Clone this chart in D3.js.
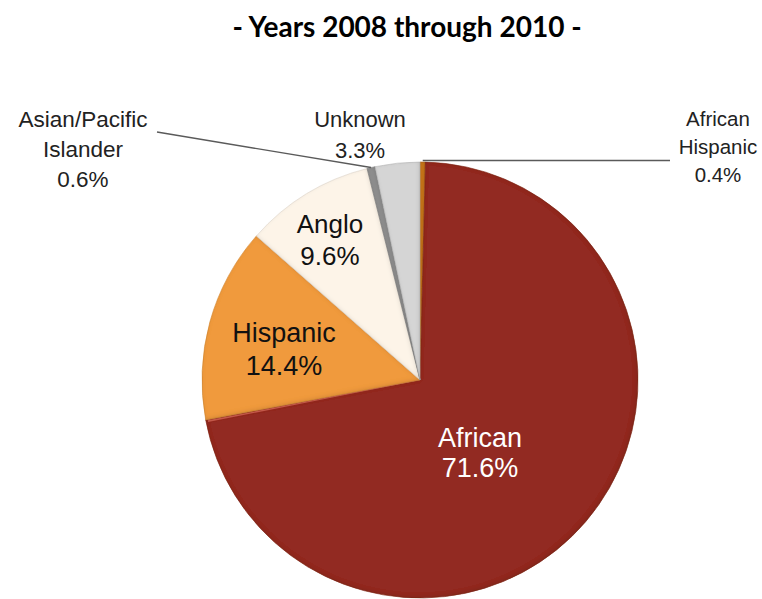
<!DOCTYPE html>
<html>
<head>
<meta charset="utf-8">
<script src="https://cdn.jsdelivr.net/npm/d3@7"></script>
<style>
html,body{margin:0;padding:0;background:#fff;}
svg{display:block;}
</style>
</head>
<body>
<svg id="chart" width="762" height="599"></svg>
<script>
// ---- data ----
const categories = ["African Hispanic", "African", "Hispanic", "Anglo", "Asian/Pacific Islander", "Unknown"];
const values = [0.4, 71.6, 14.4, 9.6, 0.6, 3.3];
const colors = ["#c8761e", "#922c20", "#f09a3c", "#fdf4e8", "#8e8e8e", "#d5d5d5"];
const titleText = "- Years 2008 through 2010 -";

// label text lines (one entry per category)
const labelLines = [
  ["African", "Hispanic", "0.4%"],
  ["African", "71.6%"],
  ["Hispanic", "14.4%"],
  ["Anglo", "9.6%"],
  ["Asian/Pacific", "Islander", "0.6%"],
  ["Unknown", "3.3%"]
];

// ---- layout ----
const cx = 420, cy = 380, R = 218;
const labelLayout = [
  {x: 718, y: 126, size: 20.5, lh: 28, color: "#222"},
  {x: 480, y: 447, size: 27, lh: 30, color: "#fff"},
  {x: 284, y: 342, size: 27, lh: 33, color: "#111"},
  {x: 330, y: 233, size: 26, lh: 32, color: "#111"},
  {x: 83,  y: 127, size: 22.5, lh: 30, color: "#222"},
  {x: 360, y: 127, size: 22, lh: 31, color: "#222"}
];

const svg = d3.select("#chart");

// defs: bevel-like edge shading
const defs = svg.append("defs");
const filt = defs.append("filter").attr("id","bevel").attr("x","-5%").attr("y","-5%").attr("width","110%").attr("height","110%");
filt.append("feGaussianBlur").attr("in","SourceAlpha").attr("stdDeviation",2.2).attr("result","blur");
filt.append("feOffset").attr("in","blur").attr("dx",-1.5).attr("dy",-1.5).attr("result","off");
filt.append("feComposite").attr("in","SourceAlpha").attr("in2","off").attr("operator","arithmetic")
  .attr("k1",0).attr("k2",1).attr("k3",-1).attr("k4",0).attr("result","edge");
filt.append("feFlood").attr("flood-color","#000").attr("flood-opacity",0.28).attr("result","fc");
filt.append("feComposite").attr("in","fc").attr("in2","edge").attr("operator","in").attr("result","shade");
filt.append("feMerge").call(m=>{m.append("feMergeNode").attr("in","SourceGraphic");m.append("feMergeNode").attr("in","shade");});

// title
svg.append("text")
  .attr("x", 407).attr("y", 37)
  .attr("text-anchor","middle")
  .attr("font-family","Lato, 'Open Sans', sans-serif")
  .attr("font-weight","bold")
  .attr("font-size", 28)
  .attr("fill","#000")
  .text(titleText);

const data = categories.map((c,i)=>({cat:c, value:values[i], color:colors[i], i}));
const pie = d3.pie().value(d=>d.value).sort(null).startAngle(0).endAngle(2*Math.PI);
const arcs = pie(data);
const arc = d3.arc().innerRadius(0).outerRadius(R);

const g = svg.append("g").attr("transform",`translate(${cx},${cy})`);
g.selectAll("path.slice").data(arcs).join("path")
  .attr("class","slice")
  .attr("d", arc)
  .attr("fill", d=>d.data.color)
  .attr("stroke", d=>d3.color(d.data.color).darker(0.4))
  .attr("stroke-width", 0.6)
  .attr("filter","url(#bevel)");

// light bevel along the African slice's closing edge
const afr = arcs[1];
g.append("path")
  .attr("d", d3.arc().innerRadius(2).outerRadius(R-2).startAngle(afr.endAngle-0.012).endAngle(afr.endAngle-0.004)())
  .attr("fill","#d06555").attr("opacity",0.8);

// leader lines
const leaderColor = "#5a5a5a";
const ahA = (arcs[0].startAngle+arcs[0].endAngle)/2;
g.append("line")
  .attr("x1", Math.sin(ahA)*R).attr("y1", -Math.cos(ahA)*R - 1.5)
  .attr("x2", 670-cx).attr("y2", -Math.cos(ahA)*R - 1.5)
  .attr("stroke", leaderColor).attr("stroke-width",1.4);
const apA = (arcs[4].startAngle+arcs[4].endAngle)/2;
g.append("line")
  .attr("x1", Math.sin(apA)*R).attr("y1", -Math.cos(apA)*R)
  .attr("x2", 157-cx).attr("y2", 132-cy)
  .attr("stroke", leaderColor).attr("stroke-width",1.4);

// labels
const labelsG = svg.append("g")
  .attr("font-family","'Liberation Sans', Arimo, Roboto, sans-serif");
labelLayout.forEach((L,i)=>{
  const t = labelsG.append("text")
    .attr("text-anchor","middle")
    .attr("font-size", L.size)
    .attr("fill", L.color);
  labelLines[i].forEach((line,j)=>{
    t.append("tspan").attr("x", L.x).attr("y", L.y + j*L.lh).text(line);
  });
});
</script>
</body>
</html>
